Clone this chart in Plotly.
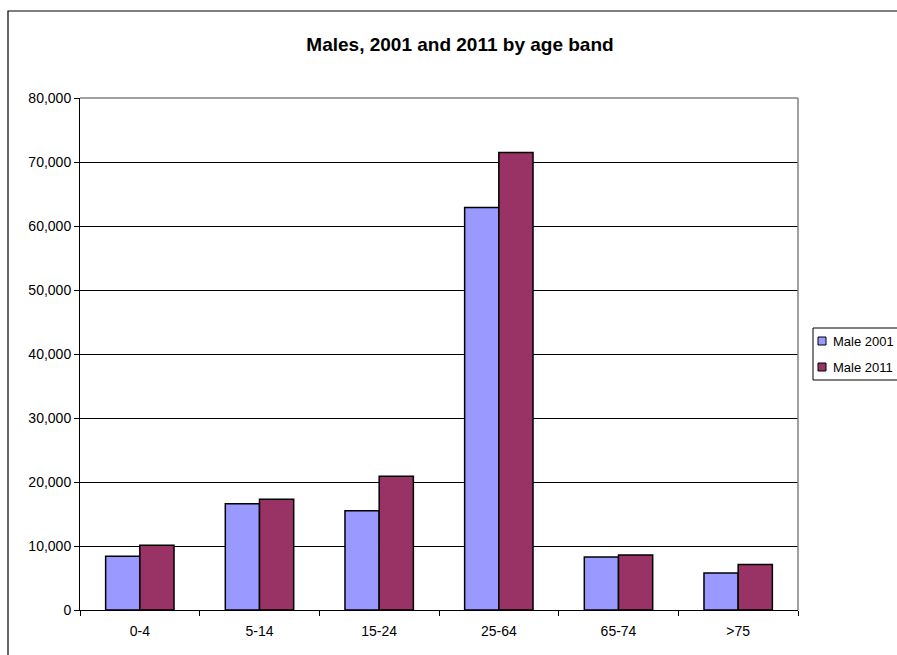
import plotly.graph_objects as go

# Age bands and male population counts
age_bands = ["0-4", "5-14", "15-24", "25-64", "65-74", ">75"]
male_2001 = [8400, 16600, 15500, 62900, 8300, 5800]
male_2011 = [10100, 17300, 20900, 71500, 8600, 7100]
series_names = ["Male 2001", "Male 2011"]
series_colors = ["#9999FF", "#993366"]
y_tick_vals = [0, 10000, 20000, 30000, 40000, 50000, 60000, 70000, 80000]
y_tick_text = ["0", "10,000", "20,000", "30,000", "40,000", "50,000", "60,000", "70,000", "80,000"]

W, H = 897, 655
L, R, T, B = 80, 99, 98, 45
pw, ph = W - L - R, H - T - B

font = "Arial, Liberation Sans, sans-serif"

fig = go.Figure()
for name, vals, col in zip(series_names, [male_2001, male_2011], series_colors):
    fig.add_trace(go.Bar(x=age_bands, y=vals, name=name, showlegend=False,
                         marker=dict(color=col, line=dict(color="black", width=1.5))))

def px_to_paper_x(px):
    return (px - L) / pw

def px_to_paper_y(py):
    return 1 - (py - T) / ph

# outer chart frame
fig.add_shape(type="rect", xref="paper", yref="paper",
              x0=px_to_paper_x(8), x1=px_to_paper_x(W + 20),
              y0=px_to_paper_y(H + 20), y1=px_to_paper_y(11),
              line=dict(color="black", width=1.2), layer="below")
# plot area frame (top and right in grey)
fig.add_shape(type="line", xref="paper", yref="paper", x0=0, x1=1, y0=1, y1=1,
              line=dict(color="#808080", width=1.5))
fig.add_shape(type="line", xref="paper", yref="paper", x0=1, x1=1, y0=0, y1=1,
              line=dict(color="#808080", width=1.5))

# legend box with swatches and labels
fig.add_shape(type="rect", xref="paper", yref="paper",
              x0=px_to_paper_x(813), x1=px_to_paper_x(W + 20),
              y0=px_to_paper_y(380), y1=px_to_paper_y(328),
              line=dict(color="black", width=1), fillcolor="white")
for i, (name, col) in enumerate(zip(series_names, series_colors)):
    cy = 341 + 26 * i
    fig.add_shape(type="rect", xref="paper", yref="paper",
                  x0=px_to_paper_x(818), x1=px_to_paper_x(826),
                  y0=px_to_paper_y(cy + 4), y1=px_to_paper_y(cy - 4),
                  line=dict(color="black", width=1), fillcolor=col)
    fig.add_annotation(xref="paper", yref="paper", x=px_to_paper_x(831), y=px_to_paper_y(cy),
                       xanchor="left", yanchor="middle", text=name, showarrow=False,
                       font=dict(size=13, family=font, color="black"))

fig.update_layout(
    width=W, height=H,
    margin=dict(l=L, r=R, t=T, b=B, autoexpand=False),
    paper_bgcolor="white", plot_bgcolor="white",
    font=dict(family=font, size=14, color="black"),
    title=dict(text="<b>Males, 2001 and 2011 by age band</b>", x=460 / W, xanchor="center",
               y=1 - 44 / H, yanchor="middle", font=dict(size=19, family=font)),
    barmode="group", bargap=0.4286, bargroupgap=0,
)
fig.update_xaxes(showline=True, linecolor="black", linewidth=1,
                 ticks="outside", tickson="boundaries", ticklen=5, tickcolor="black",
                 showgrid=False, ticklabelstandoff=8, tickfont=dict(size=14, family=font))
fig.update_yaxes(range=[0, 80000], tickvals=y_tick_vals, ticktext=y_tick_text,
                 showline=True, linecolor="black", linewidth=1,
                 ticks="outside", ticklen=5, tickcolor="black",
                 showgrid=True, gridcolor="black", gridwidth=1, zeroline=False,
                 tickfont=dict(size=14, family=font))

fig.write_html("out.html")
